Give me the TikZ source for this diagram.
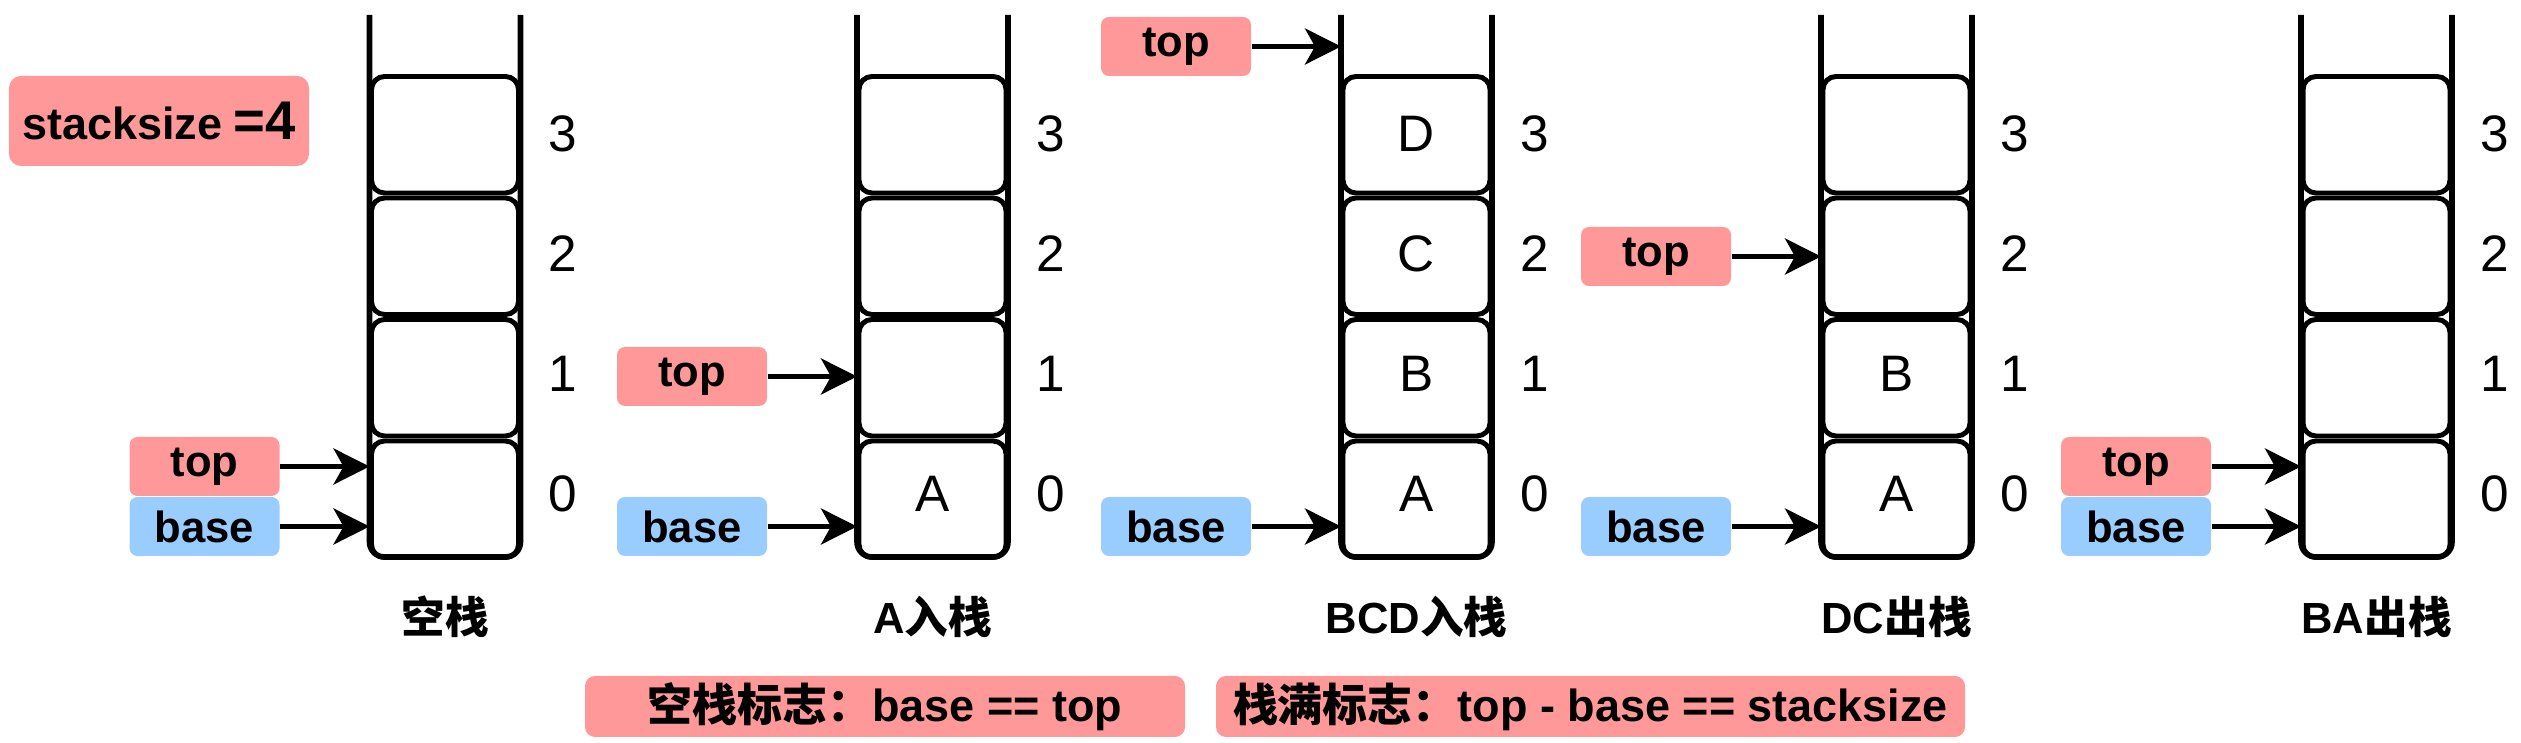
\documentclass[tikz,border=0pt]{standalone}
\usepackage{fontspec}
\setmainfont{Liberation Sans}
\newfontfamily\cjk{Noto Sans CJK SC}
\usetikzlibrary{arrows.meta}
\definecolor{toppink}{HTML}{FF9999}
\definecolor{baseblue}{HTML}{99CCFF}
\tikzset{
  wall/.style={line width=1.6pt, rounded corners=0.15cm},
  cell/.style={draw, line width=1.4pt, rounded corners=0.13cm, minimum width=1.47cm,
    minimum height=1.165cm, inner sep=0pt},
  idx/.style={font=\fontsize{14.6}{17}\selectfont},
  tag/.style={rounded corners=0.08cm, minimum width=1.5cm, minimum height=0.59cm,
    inner sep=0pt, font=\bfseries\fontsize{12.4}{14}\selectfont},
  toptag/.style={tag, fill=toppink},
  basetag/.style={tag, fill=baseblue},
  ptr/.style={-{Stealth[length=0.36cm, width=0.36cm, inset=0.1cm]}, line width=1.4pt},
  caption/.style={font=\bfseries\fontsize{12.4}{14}\selectfont},
  note/.style={fill=toppink, rounded corners=0.1cm, minimum height=0.61cm, inner sep=0pt,
    font=\bfseries\fontsize{12.8}{15}\selectfont}
}
\begin{document}
\begin{tikzpicture}
  \useasboundingbox (0,0) rectangle (25.21,-7.43);
  \node[note, minimum width=3.0cm, minimum height=0.9cm, rounded corners=0.12cm]
    (size) at (1.59,-1.21) {stacksize\hspace{0.25em}{\fontsize{15.5}{18}\selectfont =4}};
  \foreach \n/\x/\ty/\cap/\cells in {
      1/3.695/4.665/{\cjk 空栈}/{{},{},{},{}},
      2/8.57/3.765/{A{\cjk 入栈}}/{{A},{},{},{}},
      3/13.41/0.465/{BCD{\cjk 入栈}}/{{A},{B},{C},{D}},
      4/18.21/2.565/{DC{\cjk 出栈}}/{{A},{B},{},{}},
      5/23.01/4.665/{BA{\cjk 出栈}}/{{},{},{},{}}}
  {
    \coordinate (s\n) at (\x,0);
    \foreach \c [count=\k from 0] in \cells {
      \node[cell] (s\n c\k) at (\x+0.755,-4.9925+1.215*\k) {};
      \node[idx] (s\n v\k) at (\x+0.755,-4.935+1.2*\k) {\c};
    }
    \draw[wall] (\x,-0.15) -- (\x,-5.57) -- (\x+1.51,-5.57) -- (\x+1.51,-0.15);
    \foreach \k in {0,...,3}
      \node[idx] (s\n i\k) at (\x+1.935,-4.935+1.2*\k) {\k};
    \node[caption] (s\n cap) at (\x+0.755,-6.17) {\cap};
    \node[toptag] (s\n top) at (\x-1.65,-\ty) {top};
    \node[basetag] (s\n base) at (\x-1.65,-5.265) {base};
    \draw[ptr] (s\n top) -- (s\n top -| s\n);
    \draw[ptr] (s\n base) -- (s\n base -| s\n);
  }
  \node[note, minimum width=6.0cm] (empty) at (8.85,-7.065) {{\cjk 空栈标志：}base == top};
  \node[note, minimum width=7.49cm] (full) at (15.905,-7.065) {{\cjk 栈满标志：}top - base == stacksize};
\end{tikzpicture}
\end{document}
